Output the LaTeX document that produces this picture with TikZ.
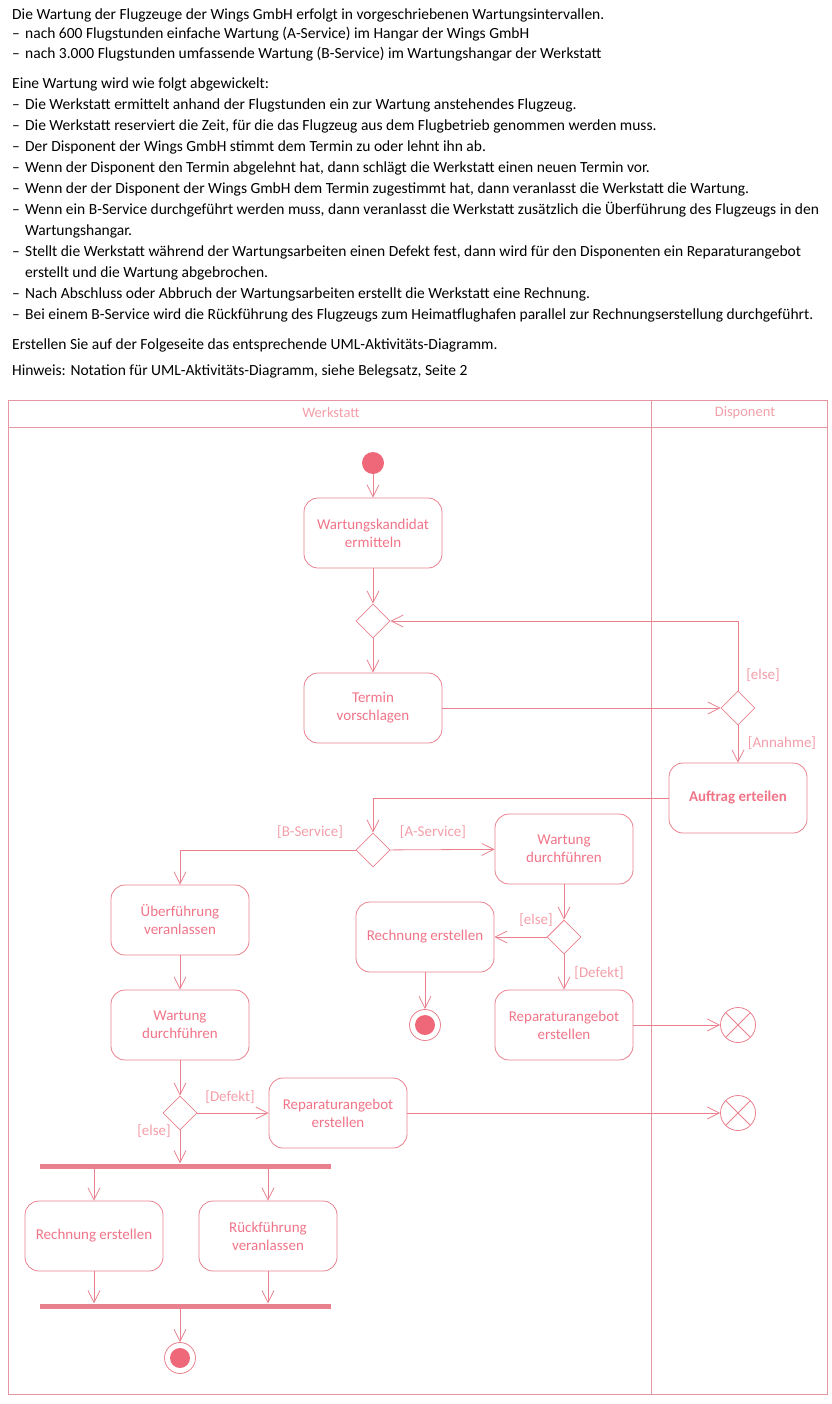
\documentclass[tikz,border=0pt]{standalone}
\usepackage{fontspec}
\setmainfont{Carlito}
\usetikzlibrary{positioning,shapes.geometric,arrows.meta}

\definecolor{umlrot}{RGB}{232,128,142}
\definecolor{umltext}{RGB}{240,116,136}
\definecolor{umlhell}{RGB}{242,158,168}
\definecolor{umlrahmen}{RGB}{230,150,160}
\definecolor{umlfuell}{RGB}{238,104,122}

\newcommand{\strich}{\makebox[13pt][l]{--}}

\tikzset{
  aufgabe/.style={anchor=west, inner sep=0pt, font=\fontsize{15.5}{18}\selectfont},
  aktion/.style={draw=umlrot, line width=0.8pt, rounded corners=14pt, minimum width=138pt, minimum height=70pt, align=center, text=umltext, font=\fontsize{15}{18}\selectfont},
  entscheidung/.style={draw=umlrot, line width=0.8pt, diamond, minimum width=34pt, minimum height=34pt, inner sep=0pt},
  startknoten/.style={circle, fill=umlfuell, minimum size=22pt, inner sep=0pt},
  endknoten/.style={circle, draw=umlrot, line width=0.8pt, minimum size=31pt, inner sep=0pt,
    path picture={\fill[umlfuell] (path picture bounding box.center) circle (10pt);}},
  abbruch/.style={circle, draw=umlrot, line width=0.8pt, minimum size=35pt, inner sep=0pt,
    path picture={\draw[umlrot, line width=0.8pt] (path picture bounding box.center) +(45:18pt) -- +(225:18pt)
      (path picture bounding box.center) +(135:18pt) -- +(315:18pt);}},
  balken/.style={fill=umlrot, minimum width=291pt, minimum height=5pt, inner sep=0pt},
  bahn/.style={text=umlhell, font=\fontsize{14.5}{17}\selectfont},
  waechter/.style={text=umlhell, font=\fontsize{15}{18}\selectfont, inner sep=1pt},
  fluss/.style={draw=umlrot, line width=0.8pt, -{Straight Barb[length=12pt,width=12pt]}},
  rahmen/.style={draw=umlrahmen, line width=0.9pt}
}

\begin{document}
\begin{tikzpicture}[x=1pt, y=-1pt]
\useasboundingbox (0,0) rectangle (831,1404);

% Aufgabentext
\node[aufgabe] (t1) at (12,15) {Die Wartung der Flugzeuge der Wings GmbH erfolgt in vorgeschriebenen Wartungsintervallen.};
\node[aufgabe] (t2) at (12,34.5) {\strich nach 600 Flugstunden einfache Wartung (A-Service) im Hangar der Wings GmbH};
\node[aufgabe] (t3) at (12,54) {\strich nach 3.000 Flugstunden umfassende Wartung (B-Service) im Wartungshangar der Werkstatt};
\node[aufgabe] (t4) at (12,84) {Eine Wartung wird wie folgt abgewickelt:};
\node[aufgabe] (t5) at (12,105) {\strich Die Werkstatt ermittelt anhand der Flugstunden ein zur Wartung anstehendes Flugzeug.};
\node[aufgabe] (t6) at (12,126) {\strich Die Werkstatt reserviert die Zeit, für die das Flugzeug aus dem Flugbetrieb genommen werden muss.};
\node[aufgabe] (t7) at (12,147) {\strich Der Disponent der Wings GmbH stimmt dem Termin zu oder lehnt ihn ab.};
\node[aufgabe] (t8) at (12,168) {\strich Wenn der Disponent den Termin abgelehnt hat, dann schlägt die Werkstatt einen neuen Termin vor.};
\node[aufgabe] (t9) at (12,189) {\strich Wenn der der Disponent der Wings GmbH dem Termin zugestimmt hat, dann veranlasst die Werkstatt die Wartung.};
\node[aufgabe] (t10) at (12,210) {\strich Wenn ein B-Service durchgeführt werden muss, dann veranlasst die Werkstatt zusätzlich die Überführung des Flugzeugs in den};
\node[aufgabe] (t11) at (25,231) {Wartungshangar.};
\node[aufgabe] (t12) at (12,252) {\strich Stellt die Werkstatt während der Wartungsarbeiten einen Defekt fest, dann wird für den Disponenten ein Reparaturangebot};
\node[aufgabe] (t13) at (25,273) {erstellt und die Wartung abgebrochen.};
\node[aufgabe] (t14) at (12,294) {\strich Nach Abschluss oder Abbruch der Wartungsarbeiten erstellt die Werkstatt eine Rechnung.};
\node[aufgabe] (t15) at (12,315) {\strich Bei einem B-Service wird die Rückführung des Flugzeugs zum Heimatflughafen parallel zur Rechnungserstellung durchgeführt.};
\node[aufgabe] (t16) at (12,345) {Erstellen Sie auf der Folgeseite das entsprechende UML-Aktivitäts-Diagramm.};
\node[aufgabe] (t17) at (12,371) {Hinweis: Notation für UML-Aktivitäts-Diagramm, siehe Belegsatz, Seite 2};

% Schwimmbahnen
\draw[rahmen] (8,400) rectangle (827,1394);
\draw[rahmen] (8,427) -- (827,427);
\draw[rahmen] (651,400) -- (651,1394);
\node[bahn] (werkstatt) at (331,413) {Werkstatt};
\node[bahn] (disponent) at (745,413) {Disponent};

% Knoten
\node[startknoten] (start) at (373,463) {};
\node[aktion] (kandidat) at (373,533) {Wartungskandidat\\ermitteln};
\node[entscheidung] (merge) at (373,621) {};
\node[aktion] (termin) at (373,708) {Termin\\vorschlagen};
\node[entscheidung] (antwort) at (738,708) {};
\node[aktion, font=\fontsize{15}{18}\selectfont\bfseries] (auftrag) at (738,798) {Auftrag erteilen};
\node[entscheidung] (service) at (373,850) {};
\node[aktion] (wartungA) at (564,849) {Wartung\\durchführen};
\node[aktion] (ueberf) at (180,920) {Überführung\\veranlassen};
\node[entscheidung] (defektA) at (564,937) {};
\node[aktion] (rechnungA) at (425,937) {Rechnung erstellen};
\node[aktion] (reparaturA) at (564,1025) {Reparaturangebot\\erstellen};
\node[endknoten] (endeA) at (425,1025) {};
\node[abbruch] (abbruchA) at (738,1025) {};
\node[aktion] (wartungB) at (180,1025) {Wartung\\durchführen};
\node[entscheidung] (defektB) at (180,1113) {};
\node[aktion] (reparaturB) at (338,1113) {Reparaturangebot\\erstellen};
\node[abbruch] (abbruchB) at (738,1113) {};
\node[balken] (gabel) at (185,1166) {};
\node[aktion] (rechnungB) at (94,1236) {Rechnung erstellen};
\node[aktion] (rueckf) at (268,1236) {Rückführung\\veranlassen};
\node[balken] (vereinig) at (185,1306) {};
\node[endknoten] (endeB) at (180,1358) {};

% Waechter
\node[waechter] (g1) at (763,675) {[else]};
\node[waechter] (g2) at (782,743) {[Annahme]};
\node[waechter] (g3) at (310,832) {[B-Service]};
\node[waechter] (g4) at (433,832) {[A-Service]};
\node[waechter] (g5) at (536,920) {[else]};
\node[waechter] (g6) at (599,973) {[Defekt]};
\node[waechter] (g7) at (230,1097) {[Defekt]};
\node[waechter] (g8) at (154,1131) {[else]};

% Kanten
\draw[fluss] (start) -- (kandidat);
\draw[fluss] (kandidat) -- (merge);
\draw[fluss] (merge) -- (termin);
\draw[fluss] (termin) -- (antwort);
\draw[fluss] (antwort.north) |- (merge.east);
\draw[fluss] (antwort) -- (auftrag);
\draw[fluss] (auftrag.west) -| (service.north);
\draw[fluss] (service) -- (wartungA);
\draw[fluss] (service.west) -| (ueberf.north);
\draw[fluss] (wartungA) -- (defektA);
\draw[fluss] (defektA) -- (rechnungA);
\draw[fluss] (defektA) -- (reparaturA);
\draw[fluss] (rechnungA) -- (endeA);
\draw[fluss] (reparaturA) -- (abbruchA);
\draw[fluss] (ueberf) -- (wartungB);
\draw[fluss] (wartungB) -- (defektB);
\draw[fluss] (defektB) -- (reparaturB);
\draw[fluss] (reparaturB) -- (abbruchB);
\draw[fluss] (defektB) -- (defektB |- gabel.north);
\draw[fluss] (rechnungB |- gabel.south) -- (rechnungB);
\draw[fluss] (rueckf |- gabel.south) -- (rueckf);
\draw[fluss] (rechnungB) -- (rechnungB |- vereinig.north);
\draw[fluss] (rueckf) -- (rueckf |- vereinig.north);
\draw[fluss] (endeB |- vereinig.south) -- (endeB);
\end{tikzpicture}
\end{document}
